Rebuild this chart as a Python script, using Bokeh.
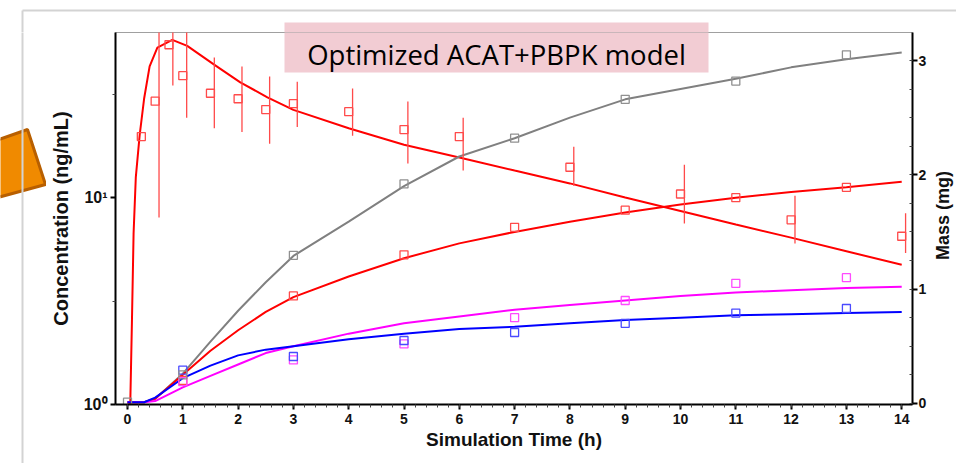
import math
from bokeh.plotting import figure
from bokeh.layouts import row, column
from bokeh.models import (Range1d, LinearAxis, LinearScale, FixedTicker,
                          CustomJSTickFormatter, Label, BoxAnnotation)
from bokeh.embed import file_html
from bokeh.resources import INLINE

# ---------------- data ----------------
# simulated plasma concentration (ng/mL, left log axis)
conc_sim_t = [0, 0.05, 0.08, 0.11, 0.15, 0.22, 0.3, 0.4, 0.54, 0.81, 1.08, 1.56, 2.04,
              2.53, 3.0, 4.0, 5.0, 6.0, 7.0, 8.0, 9.0, 10.0, 11.0, 12.0, 13.0, 14.0]
conc_sim = [1.0, 1.0, 2.5, 6.7, 12.5, 20.0, 30.0, 43.0, 53.0, 57.8, 54.0, 44.0, 36.0,
            30.5, 26.5, 21.6, 18.0, 15.6, 13.5, 11.7, 10.0, 8.6, 7.4, 6.4, 5.5, 4.73]

# observed plasma concentration with error bars
conc_obs_t = [0.25, 0.5, 0.75, 1.0, 1.5, 2.0, 2.5, 3.0, 4.0, 5.0, 6.0, 8.0, 10.0, 12.0, 14.0]
conc_obs = [19.7, 29.2, 54.7, 38.8, 31.9, 30.0, 26.6, 28.4, 26.0, 21.3, 19.7, 14.0, 10.4, 7.8, 6.5]
conc_obs_lo = [19.7, 8.0, 34.8, 24.3, 21.6, 20.7, 18.2, 21.9, 19.9, 14.6, 13.5, 11.4, 7.5, 6.0, 5.4]
conc_obs_hi = [19.7, 80.0, 80.0, 80.0, 47.5, 43.0, 38.4, 36.3, 33.6, 29.1, 24.3, 17.6, 14.4, 10.2, 8.4]

# simulated mass (mg, right axis)
mass_t = [0, 0.3, 0.5, 1.0, 1.5, 2.0, 2.5, 3.0, 4.0, 5.0, 6.0, 7.0, 8.0, 9.0, 10.0, 11.0, 12.0, 13.0, 14.0]
mass_gray = [0.01, 0.01, 0.04, 0.26, 0.54, 0.81, 1.06, 1.29, 1.59, 1.90, 2.16, 2.32, 2.50, 2.66, 2.75, 2.84, 2.94, 3.01, 3.07]
mass_red = [0.01, 0.01, 0.04, 0.25, 0.46, 0.64, 0.80, 0.93, 1.11, 1.27, 1.40, 1.50, 1.59, 1.67, 1.74, 1.80, 1.85, 1.89, 1.94]
mass_blue = [0.01, 0.01, 0.05, 0.22, 0.33, 0.42, 0.47, 0.50, 0.56, 0.61, 0.65, 0.67, 0.70, 0.73, 0.75, 0.77, 0.78, 0.79, 0.80]
mass_magenta = [0.01, 0.01, 0.02, 0.14, 0.24, 0.34, 0.44, 0.50, 0.61, 0.70, 0.76, 0.82, 0.86, 0.90, 0.94, 0.97, 0.99, 1.01, 1.02]

# observed mass
mass_obs_t = [1, 3, 5, 7, 9, 11, 13]
mass_obs_red = [0.20, 0.94, 1.30, 1.54, 1.69, 1.80, 1.89]
mass_obs_blue = [0.29, 0.41, 0.55, 0.62, 0.70, 0.79, 0.83]
mass_obs_magenta = [0.19, 0.38, 0.52, 0.75, 0.90, 1.05, 1.10]
gray_obs_t = [0, 1, 3, 5, 7, 9, 11, 13]
mass_obs_gray = [0.01, 0.25, 1.295, 1.92, 2.32, 2.66, 2.82, 3.05]

x_ticks = list(range(0, 15))
mass_ticks = [0, 1, 2, 3]
conc_ticks = [1, 10]
title_text = "Optimized ACAT+PBPK model"
right_title = "Mass (mg)"

# ---------------- style / layout (page pixels) ----------------
W, H = 956, 467
LEFT_W = 46          # strip left of the chart (slide decoration)
RIGHT_W = 24         # strip right of the chart (right axis title)
TOP_H = 32           # strip above the chart frame
BOT_H = 4            # strip below the chart
MAIN_H = H - TOP_H - BOT_H
FRAME_L, FRAME_R, FRAME_B = 115, 912, 404
FONT = "Liberation Sans"
ERR_DX = 0.07
RED, RED_L = "#FF0000", "#FF4A4A"
GRAY, GRAY_L = "#808080", "#909090"
BLUE, BLUE_L = "#0000FF", "#4A4AFF"
MAG, MAG_L = "#FF00FF", "#FF4AFF"
PINK = "#F2CCD3"
SLIDE_EDGE = "#D3D3D3"
BOX_L, BOX_R, BOX_T, BOX_B = 284, 708, 22, 72
EDGE_X, EDGE_TOP, EDGE_BOT = 22, 10, 465


def blank(width, height, x0, x1, y0, y1):
    f = figure(width=width, height=height, output_backend="svg", toolbar_location=None,
               x_range=Range1d(x0, x1), y_range=Range1d(y1, y0),
               min_border=0, min_border_left=0, min_border_right=0,
               min_border_top=0, min_border_bottom=0)
    f.axis.visible = False
    f.grid.visible = False
    f.outline_line_color = None
    f.background_fill_color = "white"
    f.border_fill_color = "white"
    return f


# top strip: slide edge + upper part of the title box
top = blank(W, TOP_H, 0, W, 0, TOP_H)
top.segment(x0=[EDGE_X, EDGE_X], y0=[EDGE_TOP, EDGE_TOP], x1=[W, EDGE_X], y1=[EDGE_TOP, TOP_H + 1],
            line_color=SLIDE_EDGE, line_width=2)
top.quad(left=[BOX_L], right=[BOX_R], top=[BOX_T], bottom=[TOP_H + 1],
         fill_color=PINK, line_color=None)

# left strip: slide edge + orange shape (page coordinates)
left = blank(LEFT_W, MAIN_H, 0, LEFT_W, TOP_H, TOP_H + MAIN_H)
left.patch([-10, 27, 45, -10], [142, 129, 184, 199], fill_color="#F08A00",
           line_color="#B85F00", line_width=3)
left.segment(x0=[EDGE_X], y0=[TOP_H - 1], x1=[EDGE_X], y1=[TOP_H + MAIN_H + 1],
             line_color=SLIDE_EDGE, line_width=2)

# right strip: right-axis title, reading bottom to top
right = blank(RIGHT_W, MAIN_H, 0, RIGHT_W, TOP_H, TOP_H + MAIN_H)
right.add_layout(Label(x=10, y=215 - TOP_H, x_units="canvas", y_units="canvas",
                       text=right_title, angle=math.pi / 2, text_align="center",
                       text_baseline="middle", text_font=FONT, text_font_style="bold",
                       text_font_size="18px", text_color="#111111"))

# bottom strip: slide edge
bottom = blank(W, BOT_H, 0, W, H - BOT_H, H)
bottom.segment(x0=[EDGE_X, EDGE_X], y0=[EDGE_BOT, H - BOT_H - 1], x1=[W, EDGE_X], y1=[EDGE_BOT, EDGE_BOT],
               line_color=SLIDE_EDGE, line_width=2)

# main chart
p = figure(width=W - LEFT_W - RIGHT_W, height=MAIN_H, output_backend="svg", toolbar_location=None,
           x_range=Range1d(-0.217, 14.195), y_range=Range1d(1.0, 62.7),
           y_axis_type="log",
           min_border_left=FRAME_L - LEFT_W, min_border_right=(W - RIGHT_W) - FRAME_R,
           min_border_top=0, min_border_bottom=(H - BOT_H) - FRAME_B)
p.extra_y_ranges = {"mass": Range1d(-0.01, 3.245)}
p.extra_y_scales = {"mass": LinearScale()}
p.xgrid.visible = False
p.ygrid.visible = False
p.outline_line_color = "#A0A0A0"
p.outline_line_width = 1
p.background_fill_color = "white"
p.border_fill_color = "white"

# simulated curves
p.line(conc_sim_t, conc_sim, line_color=RED, line_width=2)
p.line(mass_t, mass_gray, line_color=GRAY, line_width=2, y_range_name="mass")
p.line(mass_t, mass_red, line_color=RED, line_width=2, y_range_name="mass")
p.line(mass_t, mass_magenta, line_color=MAG, line_width=2, y_range_name="mass")
p.line(mass_t, mass_blue, line_color=BLUE, line_width=2, y_range_name="mass")

# observed conc with error bars
p.segment(x0=[t + ERR_DX for t in conc_obs_t], x1=[t + ERR_DX for t in conc_obs_t],
          y0=conc_obs_lo, y1=conc_obs_hi, line_color=RED_L, line_width=1.3)
p.scatter(conc_obs_t, conc_obs, marker="square", size=8, fill_color=None,
          line_color=RED_L, line_width=1.3)

# observed mass
p.scatter(mass_obs_t, mass_obs_red, marker="square", size=8, fill_color=None,
          line_color=RED_L, line_width=1.3, y_range_name="mass")
p.scatter(mass_obs_t, mass_obs_magenta, marker="square", size=8, fill_color=None,
          line_color=MAG_L, line_width=1.3, y_range_name="mass")
p.scatter(mass_obs_t, mass_obs_blue, marker="square", size=8, fill_color=None,
          line_color=BLUE_L, line_width=1.3, y_range_name="mass")
p.scatter(gray_obs_t, mass_obs_gray, marker="square", size=8, fill_color=None,
          line_color=GRAY_L, line_width=1.3, y_range_name="mass")

# axes
xa = p.xaxis[0]
xa.ticker = FixedTicker(ticks=x_ticks, minor_ticks=[i / 5 for i in range(0, 71)])
xa.axis_label = "Simulation Time (h)"
ya = p.yaxis[0]
ya.ticker = FixedTicker(ticks=conc_ticks, minor_ticks=[10 ** 0.5, 10 ** 1.5])
ya.formatter = CustomJSTickFormatter(code="""
const e = Math.round(Math.log10(tick));
const sup = {0: '\u2070', 1: '\u00b9', 2: '\u00b2'};
return '10' + sup[e];
""")
ya.axis_label = "Concentration (ng/mL)"

ra = LinearAxis(y_range_name="mass",
                ticker=FixedTicker(ticks=mass_ticks, minor_ticks=[i / 4 for i in range(0, 13)]))
p.add_layout(ra, "right")

for ax in (xa, ya, ra):
    ax.axis_line_color = "black"
    ax.axis_line_width = 2
    ax.major_tick_line_color = "black"
    ax.major_tick_line_width = 2
    ax.major_tick_out = 5
    ax.major_tick_in = 0
    ax.minor_tick_line_color = "#444444"
    ax.minor_tick_line_width = 1
    ax.minor_tick_out = 3
    ax.minor_tick_in = 0
    ax.major_label_text_font = FONT
    ax.major_label_text_font_style = "bold"
    ax.major_label_text_color = "#111111"
    ax.axis_label_text_font = FONT
    ax.axis_label_text_font_style = "bold"
    ax.axis_label_text_color = "#111111"

xa.major_label_text_font_size = "14px"
xa.major_label_standoff = 4
xa.axis_label_text_font_size = "19px"
xa.axis_label_standoff = 2
ya.major_label_text_font_size = "16px"
ya.major_label_standoff = 3
ya.axis_label_text_font_size = "20px"
ya.axis_label_standoff = 9
ra.major_label_text_font_size = "14px"
ra.major_label_standoff = 1
ra.minor_tick_out = 0
ra.minor_tick_in = 3

# title box (lower part, inside the frame) and its text
p.add_layout(BoxAnnotation(left=BOX_L - LEFT_W, right=BOX_R - LEFT_W,
                           top=BOX_T - TOP_H, bottom=BOX_B - TOP_H,
                           left_units="canvas", right_units="canvas",
                           bottom_units="canvas", top_units="canvas",
                           fill_color=PINK, fill_alpha=1, line_alpha=0))
p.add_layout(Label(x=(BOX_L + BOX_R) / 2 - LEFT_W, y=54 - TOP_H,
                   x_units="canvas", y_units="canvas",
                   text=title_text, text_align="center",
                   text_baseline="alphabetic", text_font="Open Sans",
                   text_font_size="27.5px", text_color="black"))

layout = column(top, row(column(left), p, column(right)), bottom)

with open("out.html", "w", encoding="utf-8") as f:
    f.write(file_html(layout, INLINE))
